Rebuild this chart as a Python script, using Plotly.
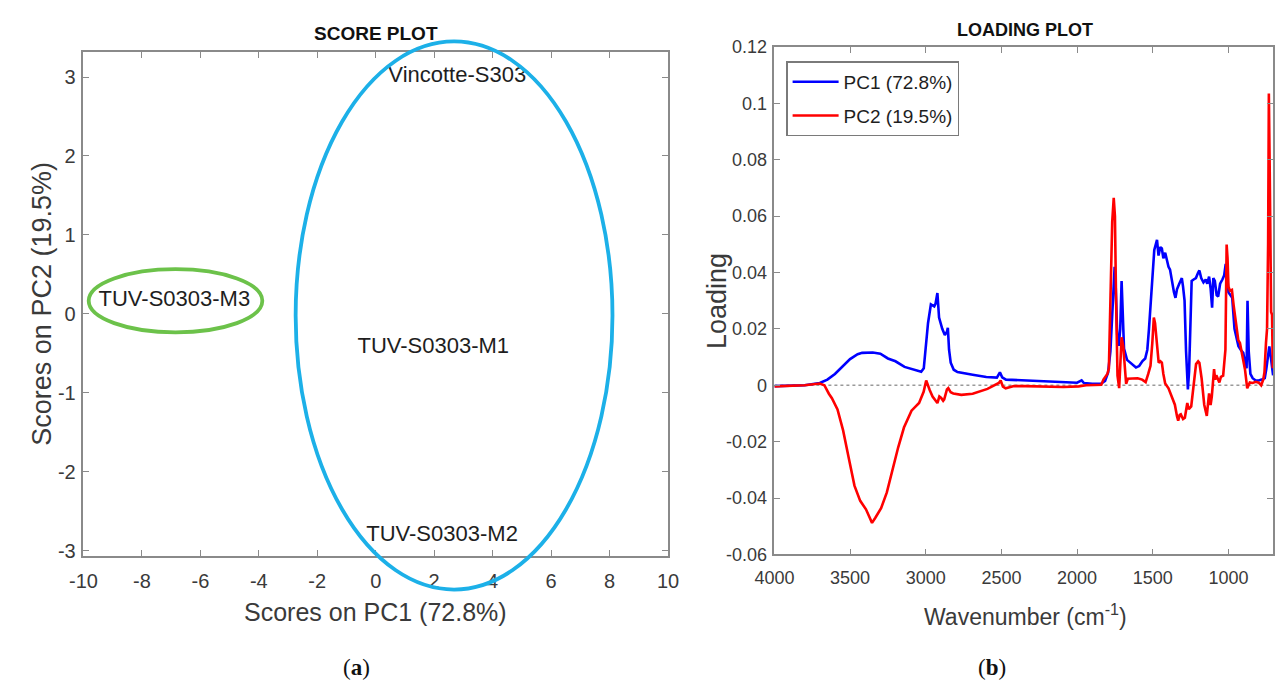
import plotly.graph_objects as go

W, H = 1288, 689

# ---------------- Score plot data ----------------
score_names = ["Vincotte-S303", "TUV-S0303-M1", "TUV-S0303-M2", "TUV-S0303-M3"]
score_pc1 = [2.79, 1.97, 2.27, -6.89]
score_pc2 = [3.00, -0.42, -2.80, 0.17]

# cluster ellipses: centre x, centre y, radius x, radius y (score units)
cluster_blue = [2.68, -0.02, 5.42, 3.47]
cluster_green = [-6.85, 0.166, 2.97, 0.40]

score_x_ticks = [-10, -8, -6, -4, -2, 0, 2, 4, 6, 8, 10]
score_x_labels = ["-10", "-8", "-6", "-4", "-2", "0", "2", "4", "6", "8", "10"]
score_y_ticks = [-3, -2, -1, 0, 1, 2, 3]
score_y_labels = ["-3", "-2", "-1", "0", "1", "2", "3"]
SCORE_X_RANGE = [-10, 10]
SCORE_Y_RANGE = [-3.065, 3.316]

# ---------------- Loading plot data ----------------
wn_pc1 = [4000, 3900, 3800, 3700, 3650, 3600, 3550, 3500, 3450, 3420, 3350, 3300,
          3250, 3200, 3140, 3100, 3060, 3030, 3013, 2995, 2985, 2966, 2944, 2935,
          2923, 2912, 2891, 2874, 2860, 2854, 2846, 2835, 2815, 2790, 2750, 2690,
          2600, 2530, 2510, 2495, 2470, 2400, 2300, 2200, 2100, 2000, 1970, 1955,
          1900, 1840, 1815, 1795, 1780, 1765, 1752, 1745, 1735, 1725, 1715, 1706,
          1698, 1690, 1670, 1640, 1611, 1590, 1568, 1550, 1536, 1525, 1510, 1500,
          1490, 1472, 1462, 1450, 1440, 1430, 1418, 1407, 1396, 1386, 1372, 1360,
          1350, 1340, 1325, 1308, 1300, 1290, 1280, 1268, 1260, 1252, 1243, 1230,
          1215, 1200, 1192, 1180, 1165, 1150, 1140, 1128, 1118, 1108, 1100, 1090,
          1078, 1068, 1055, 1040, 1028, 1018, 1010, 1000, 988, 975, 960, 945,
          934, 918, 902, 890, 880, 874, 866, 855, 840, 820, 800, 780,
          760, 750, 740, 730, 720, 712, 705]
pc1 = [-0.0003, -0.0002, 0.0, 0.0008, 0.002, 0.004, 0.0068, 0.0093, 0.011, 0.0115, 0.0116, 0.0112,
       0.0095, 0.0085, 0.0065, 0.0058, 0.0052, 0.0048, 0.006, 0.017, 0.022, 0.0287, 0.028, 0.029,
       0.0327, 0.024, 0.020, 0.0178, 0.019, 0.0204, 0.0126, 0.008, 0.0055, 0.0047, 0.0042, 0.0037,
       0.0029, 0.0027, 0.0046, 0.0028, 0.0020, 0.0018, 0.0016, 0.0013, 0.0011, 0.0009, 0.0017, 0.0008,
       0.0005, 0.0006, 0.0015, 0.0045, 0.012, 0.030, 0.042, 0.035, 0.018, 0.014, 0.020, 0.037,
       0.020, 0.013, 0.009, 0.0075, 0.0063, 0.0068, 0.0086, 0.0095, 0.0126, 0.020, 0.032, 0.040,
       0.048, 0.0516, 0.046, 0.049, 0.0485, 0.045, 0.047, 0.0445, 0.042, 0.041, 0.036, 0.033,
       0.031, 0.034, 0.036, 0.038, 0.035, 0.030, 0.012, -0.0015, 0.005, 0.025, 0.037, 0.0375,
       0.038, 0.040, 0.0407, 0.038, 0.0365, 0.0375, 0.036, 0.0385, 0.0345, 0.0275, 0.038, 0.037,
       0.032, 0.0315, 0.036, 0.0375, 0.039, 0.043, 0.040, 0.033, 0.032, 0.031, 0.020, 0.016,
       0.0138, 0.0125, 0.0115, 0.008, 0.006, 0.030, 0.012, 0.004, 0.0025, 0.0017, 0.0017, 0.002,
       0.0025, 0.0057, 0.009, 0.0138, 0.010, 0.005, 0.0035]

wn_pc2 = [4000, 3900, 3800, 3700, 3670, 3640, 3620, 3583, 3546, 3508, 3471, 3433,
          3395, 3370, 3355, 3333, 3295, 3257, 3220, 3182, 3144, 3094, 3044, 3014,
          2997, 2985, 2974, 2955, 2943, 2923, 2910, 2898, 2885, 2878, 2860, 2851,
          2835, 2818, 2765, 2690, 2592, 2517, 2505, 2490, 2472, 2417, 2341, 2216,
          2090, 1990, 1940, 1840, 1826, 1800, 1790, 1779, 1768, 1758, 1750, 1743,
          1733, 1722, 1712, 1706, 1695, 1685, 1676, 1665, 1633, 1600, 1570, 1547,
          1530, 1515, 1503, 1493, 1485, 1472, 1461, 1450, 1440, 1430, 1418, 1396,
          1375, 1354, 1340, 1332, 1322, 1315, 1300, 1288, 1272, 1262, 1246, 1238,
          1229, 1214, 1200, 1192, 1177, 1168, 1160, 1143, 1135, 1128, 1118, 1110,
          1095, 1088, 1080, 1070, 1060, 1050, 1035, 1020, 1016, 1012, 1006, 1000,
          990, 977, 965, 950, 935, 924, 910, 900, 891, 876, 866, 859,
          840, 820, 800, 784, 770, 762, 752, 745, 738, 733, 728, 723,
          718, 712, 707]
pc2 = [-0.0004, -0.0003, 0.0, 0.0006, 0.0, -0.003, -0.0046, -0.0086, -0.016, -0.026, -0.0356, -0.041,
       -0.044, -0.047, -0.0488, -0.047, -0.0436, -0.038, -0.030, -0.022, -0.015, -0.009, -0.0063, -0.0023,
       0.0017, -0.0005, -0.0017, -0.004, -0.005, -0.0063, -0.004, -0.0045, -0.0055, -0.005, -0.0015, -0.001,
       -0.0025, -0.0029, -0.0034, -0.003, -0.0013, 0.0008, 0.0017, -0.0005, -0.0011, -0.0003, -0.0003, -0.0005,
       -0.0006, -0.0004, 0.0, 0.0002, 0.002, 0.004, 0.006, 0.032, 0.058, 0.0665, 0.060, 0.032,
       0.0034, -0.001, 0.010, 0.017, 0.0138, 0.007, 0.0005, 0.0023, 0.0023, 0.0025, 0.002, 0.0011,
       0.004, 0.0069, 0.015, 0.024, 0.022, 0.015, 0.008, 0.0085, 0.008, 0.004, 0.0006, -0.0011,
       -0.004, -0.0069, -0.011, -0.0126, -0.0105, -0.0103, -0.012, -0.0115, -0.0063, -0.0085, -0.0075, -0.004,
       -0.0011, 0.0075, 0.0085, 0.008, 0.0023, -0.003, -0.0069, -0.0109, -0.006, -0.0029, -0.007, -0.004,
       0.0057, 0.002, 0.0035, 0.0023, 0.001, 0.003, 0.0034, 0.0126, 0.035, 0.0499, 0.045, 0.035,
       0.0335, 0.0338, 0.028, 0.021, 0.016, 0.015, 0.011, 0.008, 0.0057, -0.0011, 0.0, 0.001,
       0.0008, 0.0012, 0.0009, 0.0, 0.002, 0.0046, 0.015, 0.020, 0.050, 0.1035, 0.080, 0.030,
       0.026, 0.025, 0.006]

load_x_ticks = [4000, 3500, 3000, 2500, 2000, 1500, 1000]
load_x_labels = ["4000", "3500", "3000", "2500", "2000", "1500", "1000"]
load_y_ticks = [-0.06, -0.04, -0.02, 0, 0.02, 0.04, 0.06, 0.08, 0.1, 0.12]
load_y_labels = ["-0.06", "-0.04", "-0.02", "0", "0.02", "0.04", "0.06", "0.08", "0.1", "0.12"]
LOAD_X_RANGE = [4000, 705]
LOAD_Y_RANGE = [-0.06, 0.12]

# ---------------- styling ----------------
SANS = "Liberation Sans, Arial, sans-serif"
SERIF = "Liberation Serif, Times New Roman, serif"
GRAY = "#8a8a8a"
TXT = "#3a3a3a"


def dom_x(left_px, right_px):
    return [left_px / W, right_px / W]


def dom_y(top_px, bottom_px):
    return [1 - bottom_px / H, 1 - top_px / H]


def px(xp, yp):
    return xp / W, 1 - yp / H


axis_common = dict(showgrid=False, zeroline=False, showline=True, linecolor=GRAY,
                   linewidth=1.5, mirror="allticks", ticks="inside", ticklen=6,
                   tickwidth=1.2, tickcolor=GRAY, tickmode="array")

fig = go.Figure()

fig.add_trace(go.Scatter(
    x=score_pc1, y=score_pc2, mode="text", text=score_names,
    textposition="middle center", cliponaxis=False,
    textfont=dict(family=SANS, size=22, color="#1e1e1e"),
    xaxis="x", yaxis="y", showlegend=False, hoverinfo="skip"))

fig.add_trace(go.Scatter(
    x=wn_pc1, y=pc1, mode="lines", name="PC1 (72.8%)", legendgroup="a",
    line=dict(color="#0000ff", width=2.6), xaxis="x2", yaxis="y2"))
fig.add_trace(go.Scatter(
    x=wn_pc2, y=pc2, mode="lines", name="PC2 (19.5%)", legendgroup="b",
    line=dict(color="#ff0000", width=2.6), xaxis="x2", yaxis="y2"))


def ellipse(params, color, xr, yr, xa, ya):
    cx, cy, rx, ry = params
    fx = lambda v: (v - xr[0]) / (xr[1] - xr[0])
    fy = lambda v: (v - yr[0]) / (yr[1] - yr[0])
    return dict(type="circle", xref=xa + " domain", yref=ya + " domain",
                x0=fx(cx - rx), x1=fx(cx + rx), y0=fy(cy - ry), y1=fy(cy + ry),
                line=dict(color=color, width=3.8), layer="above")


shapes = [
    ellipse(cluster_blue, "#1cb0e8", SCORE_X_RANGE, SCORE_Y_RANGE, "x", "y"),
    ellipse(cluster_green, "#6cc24a", SCORE_X_RANGE, SCORE_Y_RANGE, "x", "y"),
    dict(type="line", xref="x2", yref="y2", x0=LOAD_X_RANGE[0], x1=LOAD_X_RANGE[1],
         y0=0, y1=0, line=dict(color="#9a9a9a", width=1.3, dash="dot"), layer="below"),
]


def ann(text, xp, yp, size, family=SANS, angle=0, color=TXT, xanchor="center"):
    x, y = px(xp, yp)
    return dict(text=text, x=x, y=y, xref="paper", yref="paper", showarrow=False,
                xanchor=xanchor, yanchor="middle", textangle=angle,
                font=dict(family=family, size=size, color=color))


annotations = [
    ann("<b>SCORE PLOT</b>", 365, 24, 19, color="#111111"),
    ann("Scores on PC1 (72.8%)", 364, 620, 25),
    ann("Scores on PC2 (19.5%)", 23, 302, 27, angle=-90),
    ann("(<b>a</b>)", 345, 677, 23, family=SERIF, color="#111111"),
    ann("<b>LOADING PLOT</b>", 1030, 21, 18, color="#111111"),
    ann("Wavenumber (cm<sup>-1</sup>)", 1030, 623, 23),
    ann("Loading", 715, 300, 27, angle=-90),
    ann("(<b>b</b>)", 996, 677, 23, family=SERIF, color="#111111"),
]

fig.update_layout(
    width=W, height=H, margin=dict(l=0, r=0, t=0, b=0),
    paper_bgcolor="white", plot_bgcolor="white",
    xaxis=dict(domain=dom_x(65, 664), range=SCORE_X_RANGE, anchor="y",
               tickvals=score_x_ticks, ticktext=score_x_labels, ticklabelstandoff=6,
               tickfont=dict(family=SANS, size=20, color=TXT), **axis_common),
    yaxis=dict(domain=dom_y(43.3, 562.3), range=SCORE_Y_RANGE, anchor="x",
               tickvals=score_y_ticks, ticktext=score_y_labels, ticklabelstandoff=2,
               tickfont=dict(family=SANS, size=20, color=TXT), **axis_common),
    xaxis2=dict(domain=dom_x(773, 1284), range=LOAD_X_RANGE, anchor="y2",
                tickvals=load_x_ticks, ticktext=load_x_labels, ticklabelstandoff=6,
                tickfont=dict(family=SANS, size=18, color=TXT), **axis_common),
    yaxis2=dict(domain=dom_y(38, 560.7), range=LOAD_Y_RANGE, anchor="x2",
                tickvals=load_y_ticks, ticktext=load_y_labels, ticklabelstandoff=2,
                tickfont=dict(family=SANS, size=18, color=TXT), **axis_common),
    showlegend=True,
    legend=dict(x=785 / W, y=1 - 53 / H, xanchor="left", yanchor="top",
                bgcolor="white", bordercolor="#7a7a7a", borderwidth=1.5,
                font=dict(family=SANS, size=19, color="#1e1e1e"),
                tracegroupgap=6, itemwidth=46),
    shapes=shapes,
    annotations=annotations,
)

fig.write_html("out.html")
